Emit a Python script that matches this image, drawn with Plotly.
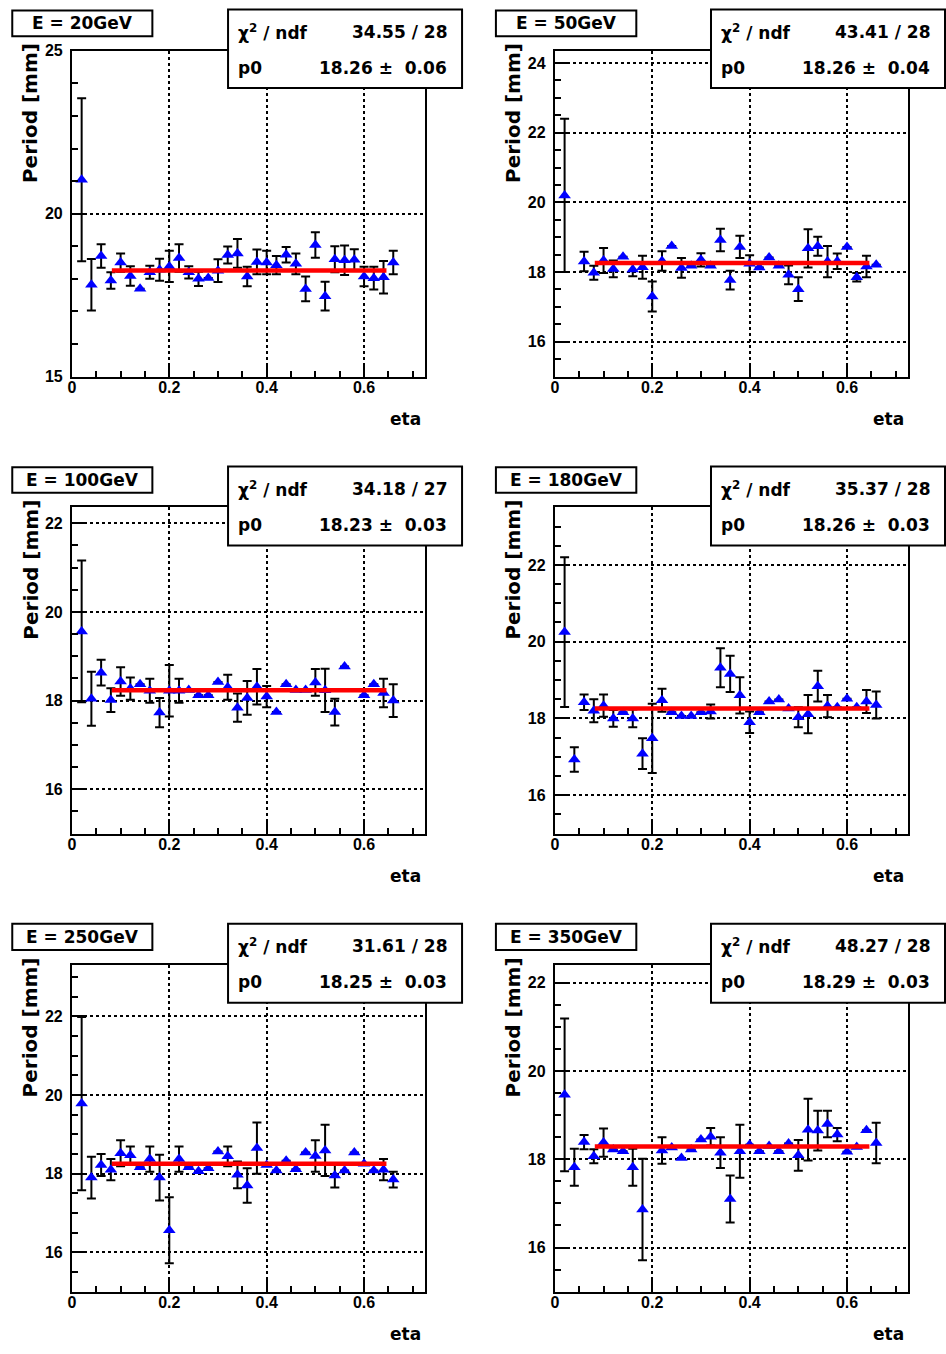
import plotly.graph_objects as go

W, H = 946, 1354

# ---------------- data ----------------
titles = ["E = 20GeV", "E = 50GeV", "E = 100GeV", "E = 180GeV", "E = 250GeV", "E = 350GeV"]
chi2_ndf = ["34.55 / 28", "43.41 / 28", "34.18 / 27", "35.37 / 28", "31.61 / 28", "48.27 / 28"]
p0_val = [18.26, 18.26, 18.23, 18.26, 18.25, 18.29]
p0_err = [0.06, 0.04, 0.03, 0.03, 0.03, 0.03]
fit_range = [0.082, 0.646]

eta_20 = [0.02, 0.04, 0.06, 0.08, 0.10, 0.12, 0.14, 0.16, 0.18, 0.20, 0.22, 0.24, 0.26, 0.28, 0.30, 0.32, 0.34,
          0.36, 0.38, 0.40, 0.42, 0.44, 0.46, 0.48, 0.50, 0.52, 0.54, 0.56, 0.58, 0.60, 0.62, 0.64, 0.66]
per_20 = [21.04, 17.82, 18.70, 17.95, 18.50, 18.09, 17.70, 18.20, 18.28, 18.38, 18.64, 18.20, 18.00, 18.03, 18.25,
          18.73, 18.78, 18.07, 18.52, 18.50, 18.42, 18.74, 18.46, 17.69, 19.04, 17.47, 18.60, 18.57, 18.59, 18.07,
          18.02, 18.05, 18.50]
err_20 = [2.50, 0.79, 0.36, 0.25, 0.28, 0.30, 0.00, 0.20, 0.34, 0.48, 0.42, 0.19, 0.22, 0.00, 0.35, 0.26, 0.44,
          0.30, 0.38, 0.36, 0.28, 0.24, 0.32, 0.38, 0.39, 0.44, 0.40, 0.45, 0.32, 0.30, 0.35, 0.50, 0.36]

eta_50 = [0.02, 0.06, 0.08, 0.10, 0.12, 0.14, 0.16, 0.18, 0.20, 0.22, 0.24, 0.26, 0.28, 0.30, 0.32, 0.34,
          0.36, 0.38, 0.40, 0.42, 0.44, 0.46, 0.48, 0.50, 0.52, 0.54, 0.56, 0.58, 0.60, 0.62, 0.64, 0.66]
per_50 = [20.20, 18.30, 17.98, 18.33, 18.09, 18.44, 18.07, 18.14, 17.30, 18.32, 18.75, 18.12, 18.18, 18.35, 18.18,
          18.92, 17.77, 18.72, 18.24, 18.13, 18.42, 18.18, 17.92, 17.51, 18.68, 18.74, 18.30, 18.31, 18.72, 17.85,
          18.16, 18.21]
err_50 = [2.20, 0.28, 0.20, 0.36, 0.24, 0.00, 0.19, 0.33, 0.43, 0.28, 0.00, 0.28, 0.00, 0.19, 0.00, 0.32,
          0.27, 0.32, 0.24, 0.00, 0.00, 0.00, 0.27, 0.34, 0.55, 0.27, 0.45, 0.22, 0.00, 0.12, 0.31, 0.00]

eta_100 = [0.02, 0.04, 0.06, 0.08, 0.10, 0.12, 0.14, 0.16, 0.18, 0.20, 0.22, 0.24, 0.26, 0.28, 0.30, 0.32, 0.34,
           0.36, 0.38, 0.40, 0.42, 0.44, 0.46, 0.48, 0.50, 0.52, 0.54, 0.56, 0.60, 0.62, 0.64, 0.66]
per_100 = [19.56, 18.04, 18.63, 18.01, 18.43, 18.27, 18.37, 18.22, 17.73, 18.22, 18.22, 18.24, 18.12, 18.12, 18.42,
           18.30, 17.84, 18.06, 18.31, 18.09, 17.74, 18.37, 18.24, 18.24, 18.41, 18.23, 17.74, 18.77, 18.12, 18.37,
           18.17, 18.00]
err_100 = [1.60, 0.61, 0.29, 0.27, 0.32, 0.25, 0.00, 0.27, 0.33, 0.58, 0.27, 0.00, 0.00, 0.00, 0.00, 0.28, 0.32,
           0.38, 0.40, 0.24, 0.00, 0.00, 0.00, 0.00, 0.30, 0.49, 0.30, 0.00, 0.00, 0.00, 0.32, 0.37]

eta_180 = [0.02, 0.04, 0.06, 0.08, 0.10, 0.12, 0.14, 0.16, 0.18, 0.20, 0.22, 0.24, 0.26, 0.28, 0.30, 0.32, 0.34,
           0.36, 0.38, 0.40, 0.42, 0.44, 0.46, 0.48, 0.50, 0.52, 0.54, 0.56, 0.58, 0.60, 0.62, 0.64, 0.66]
per_180 = [20.25, 16.93, 18.42, 18.20, 18.33, 18.00, 18.16, 18.00, 17.08, 17.48, 18.47, 18.16, 18.06, 18.06, 18.16,
           18.18, 19.32, 19.16, 18.60, 17.90, 18.16, 18.44, 18.49, 18.26, 18.03, 18.11, 18.84, 18.32, 18.29, 18.51,
           18.29, 18.44, 18.35]
err_180 = [1.95, 0.32, 0.20, 0.30, 0.29, 0.22, 0.00, 0.23, 0.40, 0.90, 0.30, 0.00, 0.00, 0.00, 0.00, 0.18, 0.51,
           0.47, 0.47, 0.28, 0.00, 0.00, 0.00, 0.00, 0.26, 0.50, 0.40, 0.29, 0.00, 0.00, 0.00, 0.30, 0.35]

eta_250 = [0.02, 0.04, 0.06, 0.08, 0.10, 0.12, 0.14, 0.16, 0.18, 0.20, 0.22, 0.24, 0.26, 0.28, 0.30, 0.32, 0.34,
           0.36, 0.38, 0.40, 0.42, 0.44, 0.46, 0.48, 0.50, 0.52, 0.54, 0.56, 0.58, 0.60, 0.62, 0.64, 0.66]
per_250 = [19.78, 17.90, 18.22, 18.10, 18.52, 18.47, 18.16, 18.37, 17.90, 16.56, 18.37, 18.16, 18.06, 18.14, 18.56,
           18.44, 17.97, 17.70, 18.65, 18.22, 18.08, 18.33, 18.11, 18.54, 18.45, 18.59, 17.95, 18.08, 18.54, 18.25,
           18.08, 18.10, 17.85]
err_250 = [2.20, 0.53, 0.28, 0.27, 0.33, 0.22, 0.00, 0.32, 0.58, 0.84, 0.32, 0.00, 0.00, 0.00, 0.00, 0.25, 0.34,
           0.44, 0.65, 0.00, 0.00, 0.00, 0.00, 0.00, 0.40, 0.65, 0.30, 0.00, 0.00, 0.00, 0.00, 0.27, 0.20]

eta_350 = [0.02, 0.04, 0.06, 0.08, 0.10, 0.12, 0.14, 0.16, 0.18, 0.22, 0.24, 0.26, 0.28, 0.30, 0.32, 0.34,
           0.36, 0.38, 0.40, 0.42, 0.44, 0.46, 0.48, 0.50, 0.52, 0.54, 0.56, 0.58, 0.60, 0.62, 0.64, 0.66]
per_350 = [19.46, 17.82, 18.39, 18.07, 18.38, 18.22, 18.18, 17.82, 16.86, 18.20, 18.27, 18.03, 18.22, 18.45, 18.51,
           18.15, 17.10, 18.18, 18.33, 18.18, 18.30, 18.18, 18.36, 18.09, 18.67, 18.65, 18.80, 18.56, 18.17, 18.28,
           18.66, 18.37]
err_350 = [1.73, 0.42, 0.16, 0.16, 0.32, 0.00, 0.00, 0.42, 1.15, 0.30, 0.00, 0.00, 0.00, 0.00, 0.20, 0.35,
           0.53, 0.60, 0.00, 0.00, 0.00, 0.00, 0.00, 0.35, 0.70, 0.45, 0.30, 0.15, 0.00, 0.00, 0.00, 0.46]

etas = [eta_20, eta_50, eta_100, eta_180, eta_250, eta_350]
periods = [per_20, per_50, per_100, per_180, per_250, per_350]
errors = [err_20, err_50, err_100, err_180, err_250, err_350]

x_range = [0, 0.725]
y_ranges = [[15, 25], [15, 24.35], [15, 22.36], [15, 23.5], [15, 23.3], [15, 22.4]]
y_dtick = [5, 2, 2, 2, 2, 2]
y_minor = [1, 0.5, 0.5, 0.5, 0.5, 0.5]

# ---------------- layout geometry (pixels) ----------------
col_x = [(68.2, 422.7), (553.2, 907.7)]
row_y = [(43.3, 373.3), (505.7, 836.0), (969.3, 1300.0)]
title_box_x = [(8.3, 149.0), (494.0, 635.0)]
title_box_y = [(2.6, 28.6), (465.0, 491.0), (927.3, 954.0)]
stat_box_x = [(225.0, 460.0), (710.0, 945.0)]
stat_box_y = [(1.5, 81.0), (464.3, 544.3), (927.3, 1007.3)]


def px(x):
    return x / W


def py(y):
    return 1 - y / H


fig = go.Figure()
shapes = []
annotations = []
layout_axes = {}

TICKFONT = dict(family="Liberation Sans", size=16, color="black", weight="bold")
TXTFONT = dict(family="DejaVu Sans", size=17, color="black", weight="bold")

for i in range(6):
    c, r = i % 2, i // 2
    n = i + 1
    xa = "x" if n == 1 else f"x{n}"
    ya = "y" if n == 1 else f"y{n}"
    xkey = "xaxis" if n == 1 else f"xaxis{n}"
    ykey = "yaxis" if n == 1 else f"yaxis{n}"
    x0, x1 = col_x[c]
    ytop, ybot = row_y[r]

    layout_axes[xkey] = dict(
        domain=[px(x0), px(x1)], range=x_range, anchor=ya,
        tick0=0, dtick=0.2, ticks="inside", ticklen=12, tickwidth=2, tickcolor="black",
        minor=dict(ticks="inside", ticklen=6, tickwidth=2, tickcolor="black", dtick=0.05, tick0=0, showgrid=False),
        showline=True, linecolor="black", linewidth=2, mirror=True,
        showgrid=True, gridcolor="black", gridwidth=1.5, griddash="dot",
        zeroline=False, tickfont=TICKFONT, ticklabelstandoff=-5,
    )
    layout_axes[ykey] = dict(
        domain=[py(ybot), py(ytop)], range=y_ranges[i], anchor=xa,
        tick0=0, dtick=y_dtick[i], ticks="inside", ticklen=12, tickwidth=2, tickcolor="black",
        minor=dict(ticks="inside", ticklen=6, tickwidth=2, tickcolor="black", dtick=y_minor[i], tick0=0, showgrid=False),
        showline=True, linecolor="black", linewidth=2, mirror=True,
        showgrid=True, gridcolor="black", gridwidth=1.5, griddash="dot",
        zeroline=False, tickfont=TICKFONT, ticklabelstandoff=4,
    )

    fig.add_trace(go.Scatter(
        x=etas[i], y=periods[i], mode="markers", xaxis=xa, yaxis=ya, showlegend=False,
        marker=dict(symbol="triangle-up", size=11, color="#0000ff", line=dict(width=0)),
        error_y=dict(type="data", array=errors[i], visible=True, color="black", thickness=2, width=4.5),
    ))
    fig.add_trace(go.Scatter(
        x=fit_range, y=[p0_val[i], p0_val[i]], mode="lines", xaxis=xa, yaxis=ya, showlegend=False,
        line=dict(color="#ff0000", width=4.5),
    ))

    # title box
    bx0, bx1 = title_box_x[c]
    by0, by1 = title_box_y[r]
    shapes.append(dict(type="rect", xref="paper", yref="paper", x0=px(bx0), x1=px(bx1), y0=py(by1), y1=py(by0),
                       fillcolor="white", line=dict(color="black", width=2), layer="above"))
    annotations.append(dict(xref="paper", yref="paper", x=px((bx0 + bx1) / 2), y=py((by0 + by1) / 2),
                            text=titles[i], showarrow=False, xanchor="center", yanchor="middle", font=TXTFONT))

    # stats box
    sx0, sx1 = stat_box_x[c]
    sy0, sy1 = stat_box_y[r]
    shapes.append(dict(type="rect", xref="paper", yref="paper", x0=px(sx0), x1=px(sx1), y0=py(sy1), y1=py(sy0),
                       fillcolor="white", line=dict(color="black", width=2), layer="above"))
    l1 = sy0 + 22.5
    l2 = sy0 + 59
    annotations.append(dict(xref="paper", yref="paper", x=px(sx0 + 8), y=py(l1), text="χ<sup>2</sup> / ndf",
                            showarrow=False, xanchor="left", yanchor="middle", font=TXTFONT))
    annotations.append(dict(xref="paper", yref="paper", x=px(sx1 - 13), y=py(l1), text=chi2_ndf[i],
                            showarrow=False, xanchor="right", yanchor="middle", font=TXTFONT))
    annotations.append(dict(xref="paper", yref="paper", x=px(sx0 + 8), y=py(l2), text="p0",
                            showarrow=False, xanchor="left", yanchor="middle", font=TXTFONT))
    annotations.append(dict(xref="paper", yref="paper", x=px(sx1 - 13), y=py(l2),
                            text=f"{p0_val[i]:.2f} \u00b1  {p0_err[i]:.2f}",
                            showarrow=False, xanchor="right", yanchor="middle", font=TXTFONT))

    # axis titles
    annotations.append(dict(xref="paper", yref="paper", x=px(x0 - 42), y=py(ytop + 63), text="Period [mm]",
                            textangle=-90, showarrow=False, xanchor="center", yanchor="middle",
                            font=dict(family="DejaVu Sans", size=20, color="black", weight="bold")))
    annotations.append(dict(xref="paper", yref="paper", x=px(x1 - 2), y=py(ybot + 43), text="eta",
                            showarrow=False, xanchor="right", yanchor="middle", font=TXTFONT))

fig.update_layout(
    width=W, height=H, margin=dict(l=0, r=0, t=0, b=0),
    paper_bgcolor="white", plot_bgcolor="white",
    shapes=shapes, annotations=annotations, showlegend=False,
    **layout_axes,
)

fig.write_html("out.html")
